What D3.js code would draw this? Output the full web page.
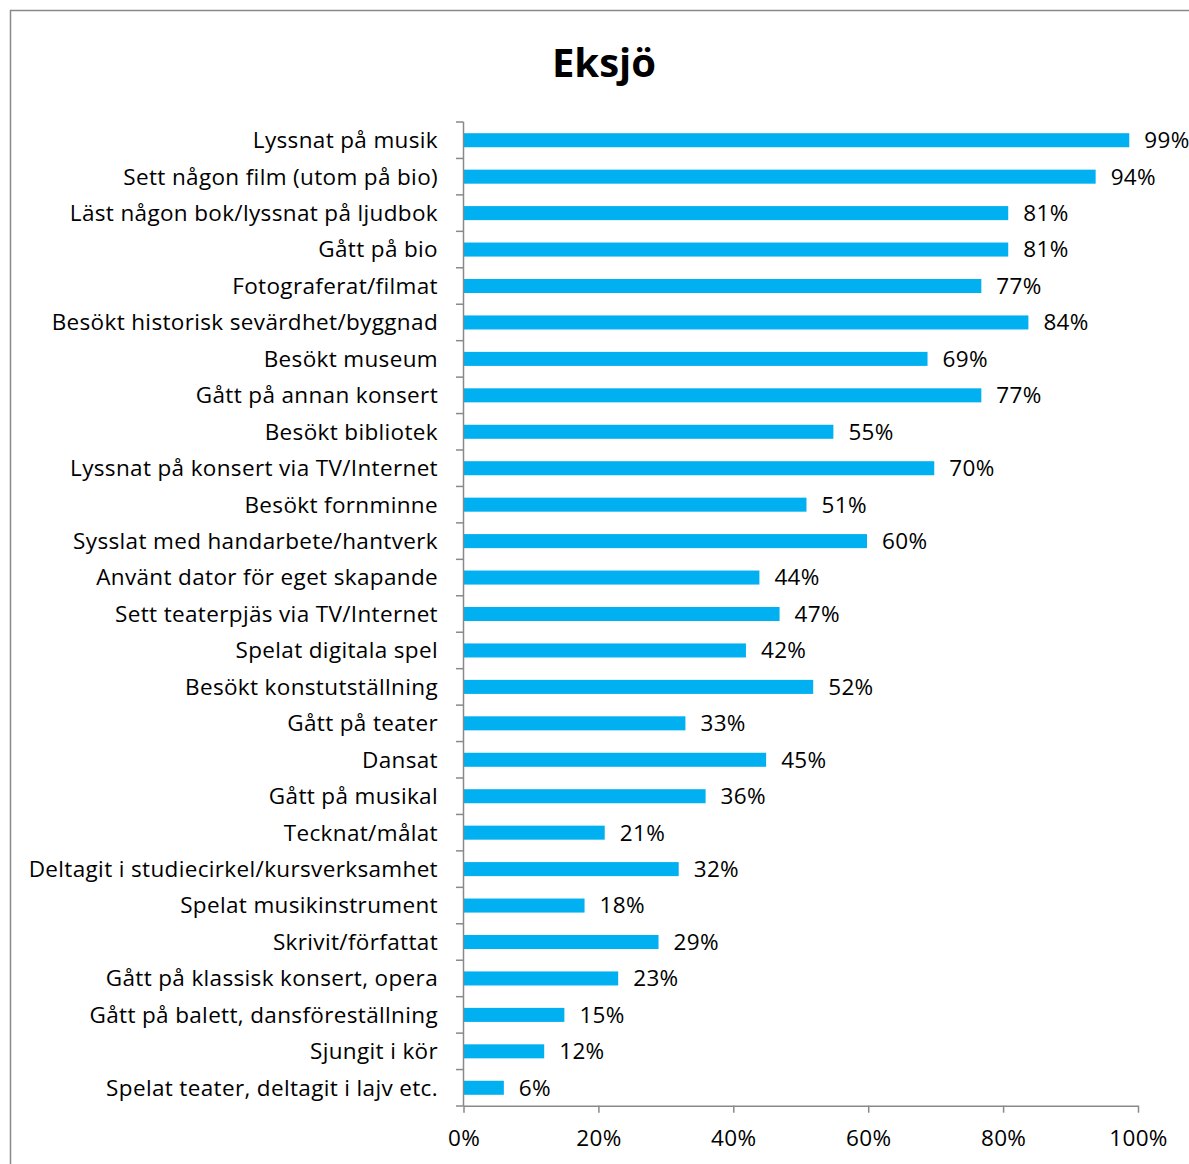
<!DOCTYPE html>
<html><head><meta charset="utf-8">
<script src="https://cdn.jsdelivr.net/npm/d3@7"></script>
<style>body{margin:0;background:#fff}svg{display:block}</style>
</head><body>
<script>
const title = "Eksjö";
const categories = [
 "Lyssnat på musik","Sett någon film (utom på bio)","Läst någon bok/lyssnat på ljudbok","Gått på bio",
 "Fotograferat/filmat","Besökt historisk sevärdhet/byggnad","Besökt museum","Gått på annan konsert",
 "Besökt bibliotek","Lyssnat på konsert via TV/Internet","Besökt fornminne","Sysslat med handarbete/hantverk",
 "Använt dator för eget skapande","Sett teaterpjäs via TV/Internet","Spelat digitala spel","Besökt konstutställning",
 "Gått på teater","Dansat","Gått på musikal","Tecknat/målat","Deltagit i studiecirkel/kursverksamhet",
 "Spelat musikinstrument","Skrivit/författat","Gått på klassisk konsert, opera","Gått på balett, dansföreställning",
 "Sjungit i kör","Spelat teater, deltagit i lajv etc."];
const values = [99,94,81,81,77,84,69,77,55,70,51,60,44,47,42,52,33,45,36,21,32,18,29,23,15,12,6];
const xTicks = [0,20,40,60,80,100];

const W = 1189, H = 1164;
const font = "'Open Sans', Lato, sans-serif";
const fs = 22.5, ls = "0.35px";
const svg = d3.select("body").append("svg").attr("width", W).attr("height", H);

// frame
svg.append("path").attr("d", `M10.5,${H} V10.5 H${W}`).attr("fill","none").attr("stroke","#898989").attr("stroke-width",1.5);

svg.append("text").attr("x", 604).attr("y", 77).attr("text-anchor","middle")
  .attr("font-family", font).attr("font-weight","bold").attr("font-size", 40).attr("fill","#000").text(title);

const x = d3.scaleLinear().domain([0,100]).range([463.5,1136]);
const y = d3.scaleBand().domain(categories).range([122,1106]).paddingInner(0.615).paddingOuter(0.3075);

// bars
svg.append("g").selectAll("rect").data(values).join("rect")
  .attr("x", x(0)).attr("y", (d,i)=>y(categories[i]))
  .attr("width", d=>x(d)-x(0)).attr("height", y.bandwidth())
  .attr("fill","#00B0F0");

// y axis
const yAxisG = svg.append("g");
yAxisG.append("line").attr("x1",463.5).attr("x2",463.5).attr("y1",122).attr("y2",1106).attr("stroke","#898989").attr("stroke-width",1.5);
const step = y.step();
yAxisG.selectAll("line.t").data(d3.range(categories.length+1)).join("line").attr("class","t")
  .attr("x1",456).attr("x2",463.5).attr("y1",i=>122+i*step).attr("y2",i=>122+i*step)
  .attr("stroke","#898989").attr("stroke-width",1.5);
yAxisG.selectAll("text").data(categories).join("text")
  .attr("x", 438).attr("y", d=>y(d)+y.bandwidth()/2).attr("dy","0.35em")
  .attr("text-anchor","end").attr("font-family",font).attr("font-size",fs).attr("letter-spacing",ls).attr("fill","#000").text(d=>d);

// x axis
const xAxis = d3.axisBottom(d3.scaleLinear().domain([0,100]).range([463.5,1138])).tickValues(xTicks).tickFormat(d=>d+"%").tickSize(7).tickSizeOuter(0);
const xg = svg.append("g").attr("transform","translate(0,1105.7)").call(xAxis);
xg.select(".domain").attr("stroke","#898989").attr("stroke-width",1.5);
xg.selectAll(".tick line").attr("stroke","#898989").attr("stroke-width",1.5);
xg.selectAll(".tick text").attr("font-family",font).attr("font-size",fs).attr("letter-spacing",ls).attr("fill","#000").attr("y",24).attr("dy","0.71em");

// value labels
svg.append("g").selectAll("text").data(values).join("text")
  .attr("x", d=>x(d)+15).attr("y",(d,i)=>y(categories[i])+y.bandwidth()/2).attr("dy","0.35em")
  .attr("font-family",font).attr("font-size",fs).attr("letter-spacing",ls).attr("fill","#000").text(d=>d+"%");
</script>
</body></html>
